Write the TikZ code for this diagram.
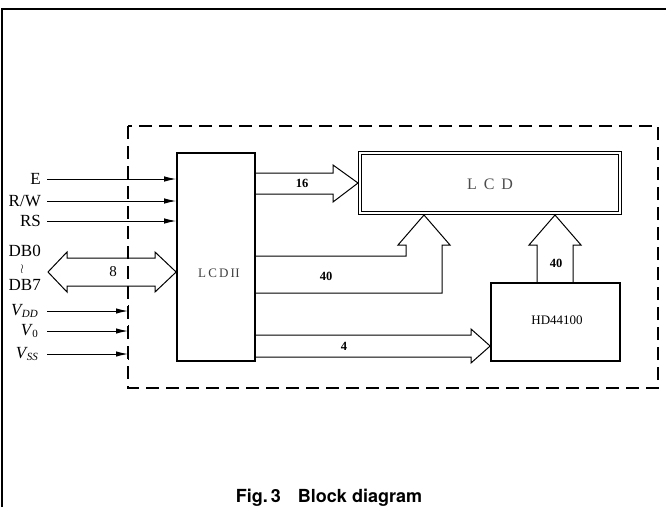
\documentclass[tikz,border=0pt]{standalone}
\usepackage{fontspec}
\setmainfont{Liberation Serif}
\newfontfamily\capfont{TeX Gyre Heros}
\usetikzlibrary{arrows.meta,calc}
\begin{document}
\begin{tikzpicture}[x=1pt,y=-1pt,
  blk/.style={draw, line width=1.7pt, inner sep=0pt},
  sig/.style={line width=1pt, -{Latex[length=12pt,width=5.5pt]}},
  bus/.style={line width=1pt, line join=miter},
  lbl/.style={font=\fontsize{17}{17}\selectfont, anchor=east, inner sep=0pt},
  num/.style={font=\bfseries\fontsize{12.5}{12.5}\selectfont, inner sep=0pt},
  dashbox/.style={line width=1.2pt, dash pattern=on 13pt off 7pt},
  tick/.style={line width=1pt}]
\useasboundingbox (0,0) rectangle (666,507);
% outer frame fragments
\draw[line width=1.2pt] (2,507) -- (2,9) -- (666,9);
% dashed enclosure
\draw[dashbox] (128,126) rectangle (658,388);
% blocks
\node[blk, minimum width=78pt, minimum height=208pt] (lcdii) at (216,257) {};
\node[font=\fontsize{13}{13}\selectfont, text=black!75, inner sep=0pt] (lcdiit) at (219,273) {L\,C\,D\,I\kern0.5pt I};
\node[draw, line width=0.8pt, double, double distance=2.4pt, minimum width=260pt, minimum height=60pt, inner sep=0pt] (lcd) at (490,183) {};
\node[font=\fontsize{16}{16}\selectfont, text=black!70, inner sep=0pt] (lcdt) at (490,184) {L\hspace{7pt}C\hspace{7pt}D};
\node[blk, minimum width=129pt, minimum height=78pt] (hd) at (555.5,322) {};
\node[font=\fontsize{13}{13}\selectfont, inner sep=0pt] (hdt) at (557,320) {HD44100};
% input signals
\foreach \nm/\yy/\tx in {e/179/{E}, rw/201/{R/W}, rs/221/{RS}}{
  \coordinate (\nm) at (47,\yy);
  \node[lbl] (\nm t) at (41,\yy) {\tx};
  \draw[sig] (\nm) -- (\nm -| lcdii.west);
}
% data bus labels
\node[lbl, anchor=base east] (db0) at (41,256) {DB0};
\node[inner sep=0pt, font=\fontsize{10}{10}\selectfont] (dbw) at (22,269) {\scalebox{1.2}[1.3]{$\wr$}};
\node[lbl, anchor=base east] (db7) at (41,290) {DB7};
% 8-bit bidirectional bus
\draw[bus] (48,272) -- (67,252) -- (67,258) -- (155,258) -- (155,252) -- (lcdii.west |- 0,272) -- (155,292) -- (155,286) -- (67,286) -- (67,292) -- cycle;
\node[font=\fontsize{15}{15}\selectfont, inner sep=0pt] (n8) at (113,272) {8};
% power inputs
\foreach \nm/\yy/\tx in {vdd/311/{\itshape V\kern0.5pt\raisebox{-2.5pt}{\fontsize{11}{11}\selectfont DD}}, vo/331/{\itshape V\kern1pt\raisebox{-2.5pt}{\fontsize{11}{11}\selectfont\upshape 0}}, vss/354/{\itshape V\kern0.5pt\raisebox{-2.5pt}{\fontsize{11}{11}\selectfont SS}}}{
  \coordinate (\nm) at (47,\yy);
  \coordinate (\nm e) at (128,\yy);
  \node[lbl] (\nm t) at (38,\yy) {\tx};
  \draw[sig] (\nm) -- (\nm e);
  \draw[tick] ($(\nm e)+(0,-6)$) -- ($(\nm e)+(0,6)$);
}
% 16 bus LCD II -> LCD
\draw[bus] (lcdii.east |- 0,173) -- (333,173) -- (333,165) -- (358,183) -- (333,202) -- (333,194) -- (lcdii.east |- 0,194);
\node[num] (n16) at (302,183) {16};
% 40 bus LCD II -> LCD (bottom)
\draw[bus] (lcdii.east |- 0,256) -- (406,256) -- (406,245) -- (398,245) -- (424,215) -- (450,245) -- (442,245) -- (442,293) -- (lcdii.east |- 0,293);
\node[num] (n40a) at (326,276) {40};
% 40 bus HD44100 -> LCD
\draw[bus] (537,283) -- (537,245) -- (529,245) -- (555,215) -- (581,245) -- (573,245) -- (573,283);
\node[num] (n40b) at (556,263) {40};
% 4 bus LCD II -> HD44100
\draw[bus] (lcdii.east |- 0,335) -- (471,335) -- (471,329) -- (hd.west |- 0,346) -- (471,363) -- (471,357) -- (lcdii.east |- 0,357);
\node[num] (n4) at (344,346) {4};
% caption
\node[font=\capfont\bfseries\fontsize{18}{18}\selectfont, anchor=base, inner sep=0pt] (cap) at (329,502) {Fig.\,3\hspace{17pt}Block diagram};
\end{tikzpicture}
\end{document}
